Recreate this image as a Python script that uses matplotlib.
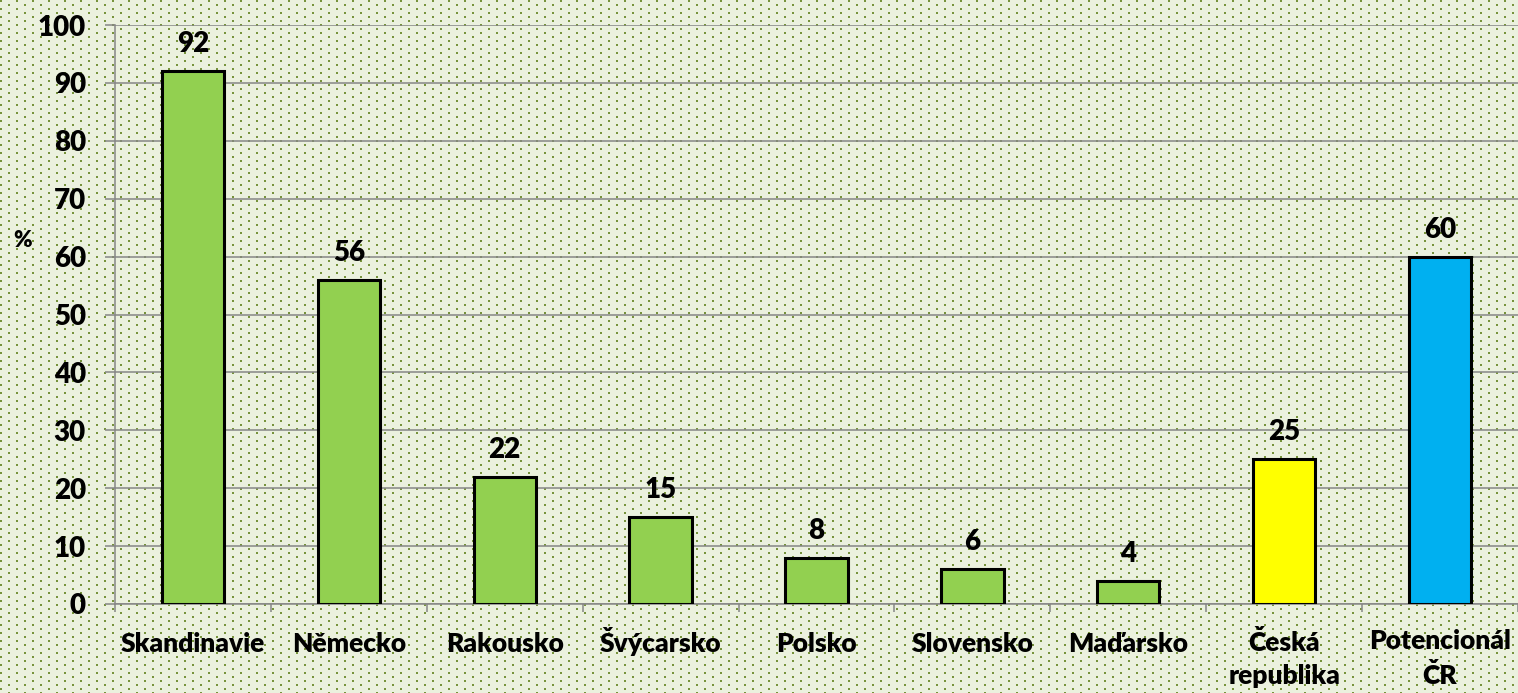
import numpy as np
import matplotlib
matplotlib.use("Agg")
import matplotlib.pyplot as plt
from matplotlib.transforms import ScaledTranslation

categories = ["Skandinavie", "Německo", "Rakousko", "Švýcarsko", "Polsko",
              "Slovensko", "Maďarsko", "Česká\nrepublika", "Potencionál\nČR"]
values = [92, 56, 22, 15, 8, 6, 4, 25, 60]
bar_colors = ["#92D050"] * 7 + ["#FFFF00", "#00B0F0"]
y_ticks = [0, 10, 20, 30, 40, 50, 60, 70, 80, 90, 100]

W, H, DPI = 1518, 693, 100
plt.rcParams['font.family'] = ['Lato', 'DejaVu Sans']
WEIGHT = 'heavy'

fig = plt.figure(figsize=(W / DPI, H / DPI), dpi=DPI)

# dotted background texture
bg = np.array([0xEB, 0xF1, 0xDE], dtype=float) / 255
dot = np.array([0x77, 0x93, 0x3C], dtype=float) / 255
img = np.ones((H, W, 3)) * bg
yy, xx = np.mgrid[0:H, 0:W]
row = yy // 4
mask = ((yy % 4) < 2) & (((xx + (row % 2) * 8) % 16) < 2)
img[mask] = dot
fig.figimage(img, xo=0, yo=0, zorder=-10, origin='upper')

left = 115 / W
bottom = 1 - 604 / H
top = 1 - 25 / H
ax = fig.add_axes([left, bottom, 1 - left, top - bottom])
ax.set_zorder(1)
ax.set_facecolor('none')

x = np.arange(len(categories))
ax.bar(x, values, width=0.4, color=bar_colors, edgecolor='black', linewidth=2.2, zorder=3)

for xi, v in zip(x, values):
    ax.annotate(str(v), (xi, v), xytext=(0, 10), textcoords='offset points',
                ha='center', va='bottom', fontsize=20, fontweight=WEIGHT)

ax.set_ylim(0, 100)
ax.set_xlim(-0.5, len(categories) - 0.5)
ax.set_yticks(y_ticks)
ax.set_yticklabels([str(t) for t in y_ticks], fontsize=20, fontweight=WEIGHT)
ax.yaxis.grid(True, color='#868686', linewidth=1.1, zorder=0)
ax.set_axisbelow(True)

ax.set_xticks(np.arange(len(categories) + 1) - 0.5)
ax.set_xticklabels([])
ax.set_xticks(x, minor=True)
ax.set_xticklabels(categories, minor=True, fontsize=19, fontweight=WEIGHT,
                   linespacing=1.45, va='baseline')
ax.tick_params(axis='x', which='major', length=6, width=1.1, color='#868686', direction='out')
ax.tick_params(axis='x', which='minor', length=0, pad=34.5)
ax.tick_params(axis='y', length=7, width=1.1, color='#868686', pad=14)

# baseline of the first line aligned for multi-line labels
for lbl in ax.xaxis.get_minorticklabels():
    n_extra = lbl.get_text().count("\n")
    if n_extra:
        lbl.set_transform(lbl.get_transform() +
                          ScaledTranslation(0, -32 * n_extra / DPI, fig.dpi_scale_trans))

for s in ['top', 'right']:
    ax.spines[s].set_visible(False)
for s in ['left', 'bottom']:
    ax.spines[s].set_color('#868686')
    ax.spines[s].set_linewidth(1.1)

fig.text(23 / W, 1 - 240 / H, "%", ha='center', va='center', fontsize=16, fontweight=WEIGHT)

fig.savefig("out.png", dpi=DPI)
